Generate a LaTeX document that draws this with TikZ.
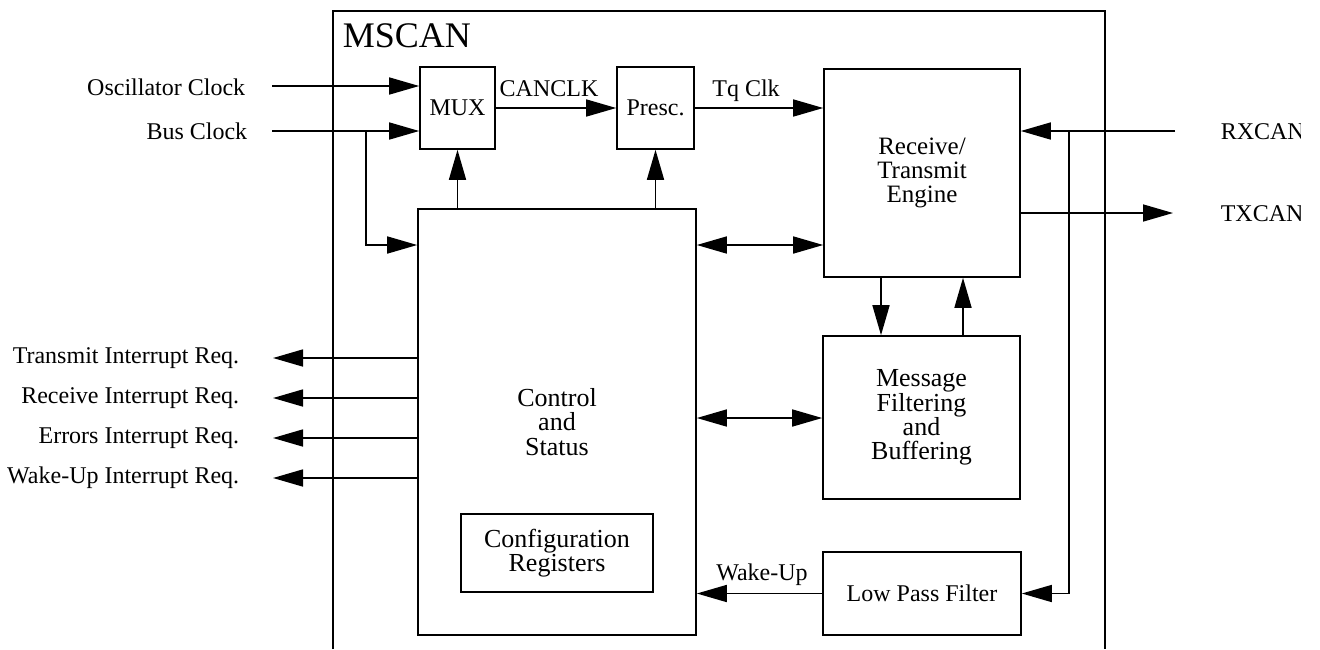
\documentclass[tikz,border=0pt]{standalone}
\usepackage{fontspec}
\setmainfont{Liberation Serif}
\usetikzlibrary{arrows.meta}
\begin{document}
\begin{tikzpicture}[x=0.5pt,y=-0.5pt,
  line width=0.8pt,
  box/.style={draw, line width=0.8pt, inner sep=0pt, align=center, font=\fontsize{12}{12}\selectfont},
  bigtext/.style={font=\fontsize{13}{12.2}\selectfont},
  arr/.style={-{Triangle[length=15pt,width=8.5pt]}},
  darr/.style={{Triangle[length=15pt,width=8.5pt]}-{Triangle[length=15pt,width=8.5pt]}},
  lbl/.style={font=\fontsize{12}{14}\selectfont, inner sep=0pt}]
\useasboundingbox (0,0) rectangle (1320,649);

% outer MSCAN frame (open at the bottom)
\draw (333,649) -- (333,11) -- (1105,11) -- (1105,649);
\node[anchor=base west, inner sep=0pt, font=\fontsize{18}{20}\selectfont] (mscan) at (342,47) {MSCAN};

% blocks
\node[box, minimum width=37.5pt, minimum height=41pt] (mux) at (457.5,108) {MUX};
\node[box, minimum width=38.5pt, minimum height=41pt] (presc) at (655.5,108) {Presc.};
\node[box, font=\fontsize{12.5}{11.8}\selectfont, minimum width=98pt, minimum height=104pt] (rte) at (922,173) {Receive/\\Transmit\\Engine};
\node[box, bigtext, minimum width=139pt, minimum height=213pt] (ctrl) at (557,422) {Control\\and\\Status};
\node[box, bigtext, minimum width=98.5pt, minimum height=81.5pt] (msg) at (921.5,417.5) {Message\\Filtering\\and\\Buffering};
\node[box, bigtext, minimum width=96pt, minimum height=39pt] (cfg) at (557,553) {Configuration\\Registers};
\node[box, minimum width=99pt, minimum height=41.5pt] (lpf) at (922,593.5) {Low Pass Filter};

% clock inputs
\coordinate (oscS) at (272,86);
\coordinate (busS) at (272,131);
\node[lbl, anchor=east] (osct) at (246,87) {Oscillator Clock};
\node[lbl, anchor=east] (bust) at (248,131) {Bus Clock};
\draw[arr] (oscS) -- (oscS -| mux.west);
\draw[arr] (busS) -- (busS -| mux.west);
\coordinate (busJ) at (366,131);
\coordinate (busK) at (366,245);
\draw[arr] (busJ) -- (busK) -- (busK -| ctrl.west);

% clock chain
\draw[arr] (mux.east) -- (presc.west);
\node[lbl, anchor=base] (canclk) at (549,96) {CANCLK};
\draw[arr] (presc.east) -- (presc.east -| rte.west);
\node[lbl, anchor=base] (tqclk) at (746,96) {Tq Clk};

% control to mux / prescaler
\draw[arr] (mux.south |- ctrl.north) -- (mux.south);
\draw[arr] (presc.south |- ctrl.north) -- (presc.south);

% control <-> engine / message
\coordinate (yA) at (0,245);
\draw[darr] (ctrl.east |- yA) -- (rte.west |- yA);
\coordinate (yB) at (0,418);
\draw[darr] (ctrl.east |- yB) -- (msg.west |- yB);

% engine <-> message
\coordinate (xd) at (881,0);
\coordinate (xu) at (963,0);
\draw[arr] (rte.south -| xd) -- (msg.north -| xd);
\draw[arr] (msg.north -| xu) -- (rte.south -| xu);

% wake-up
\draw[arr] (lpf.west) -- (lpf.west -| ctrl.east);
\node[lbl, anchor=base] (wakeup) at (762,580) {Wake-Up};

% interrupt requests
\foreach \i/\yy/\tt in {1/358/Transmit Interrupt Req., 2/398/Receive Interrupt Req., 3/438/Errors Interrupt Req., 4/478/Wake-Up Interrupt Req.}{
  \coordinate (int\i) at (273,\yy);
  \draw[arr] (ctrl.west |- int\i) -- (int\i);
  \node[lbl, anchor=east] (intt\i) at (240,\yy) {\tt};
}

% RXCAN / TXCAN
\coordinate (rxS) at (1175,131);
\coordinate (rxJ) at (1069,131);
\draw[arr] (rxS) -- (rxS -| rte.east);
\draw[arr] (rxJ) |- (lpf.east);
\coordinate (txE) at (1173,213);
\draw[arr] (txE -| rte.east) -- (txE);
\begin{scope}
  \clip (1200,100) rectangle (1300,240);
  \node[lbl, anchor=west] (rxcan) at (1220,132) {RXCAN};
  \node[lbl, anchor=west] (txcan) at (1220,214) {TXCAN};
\end{scope}
\end{tikzpicture}
\end{document}
